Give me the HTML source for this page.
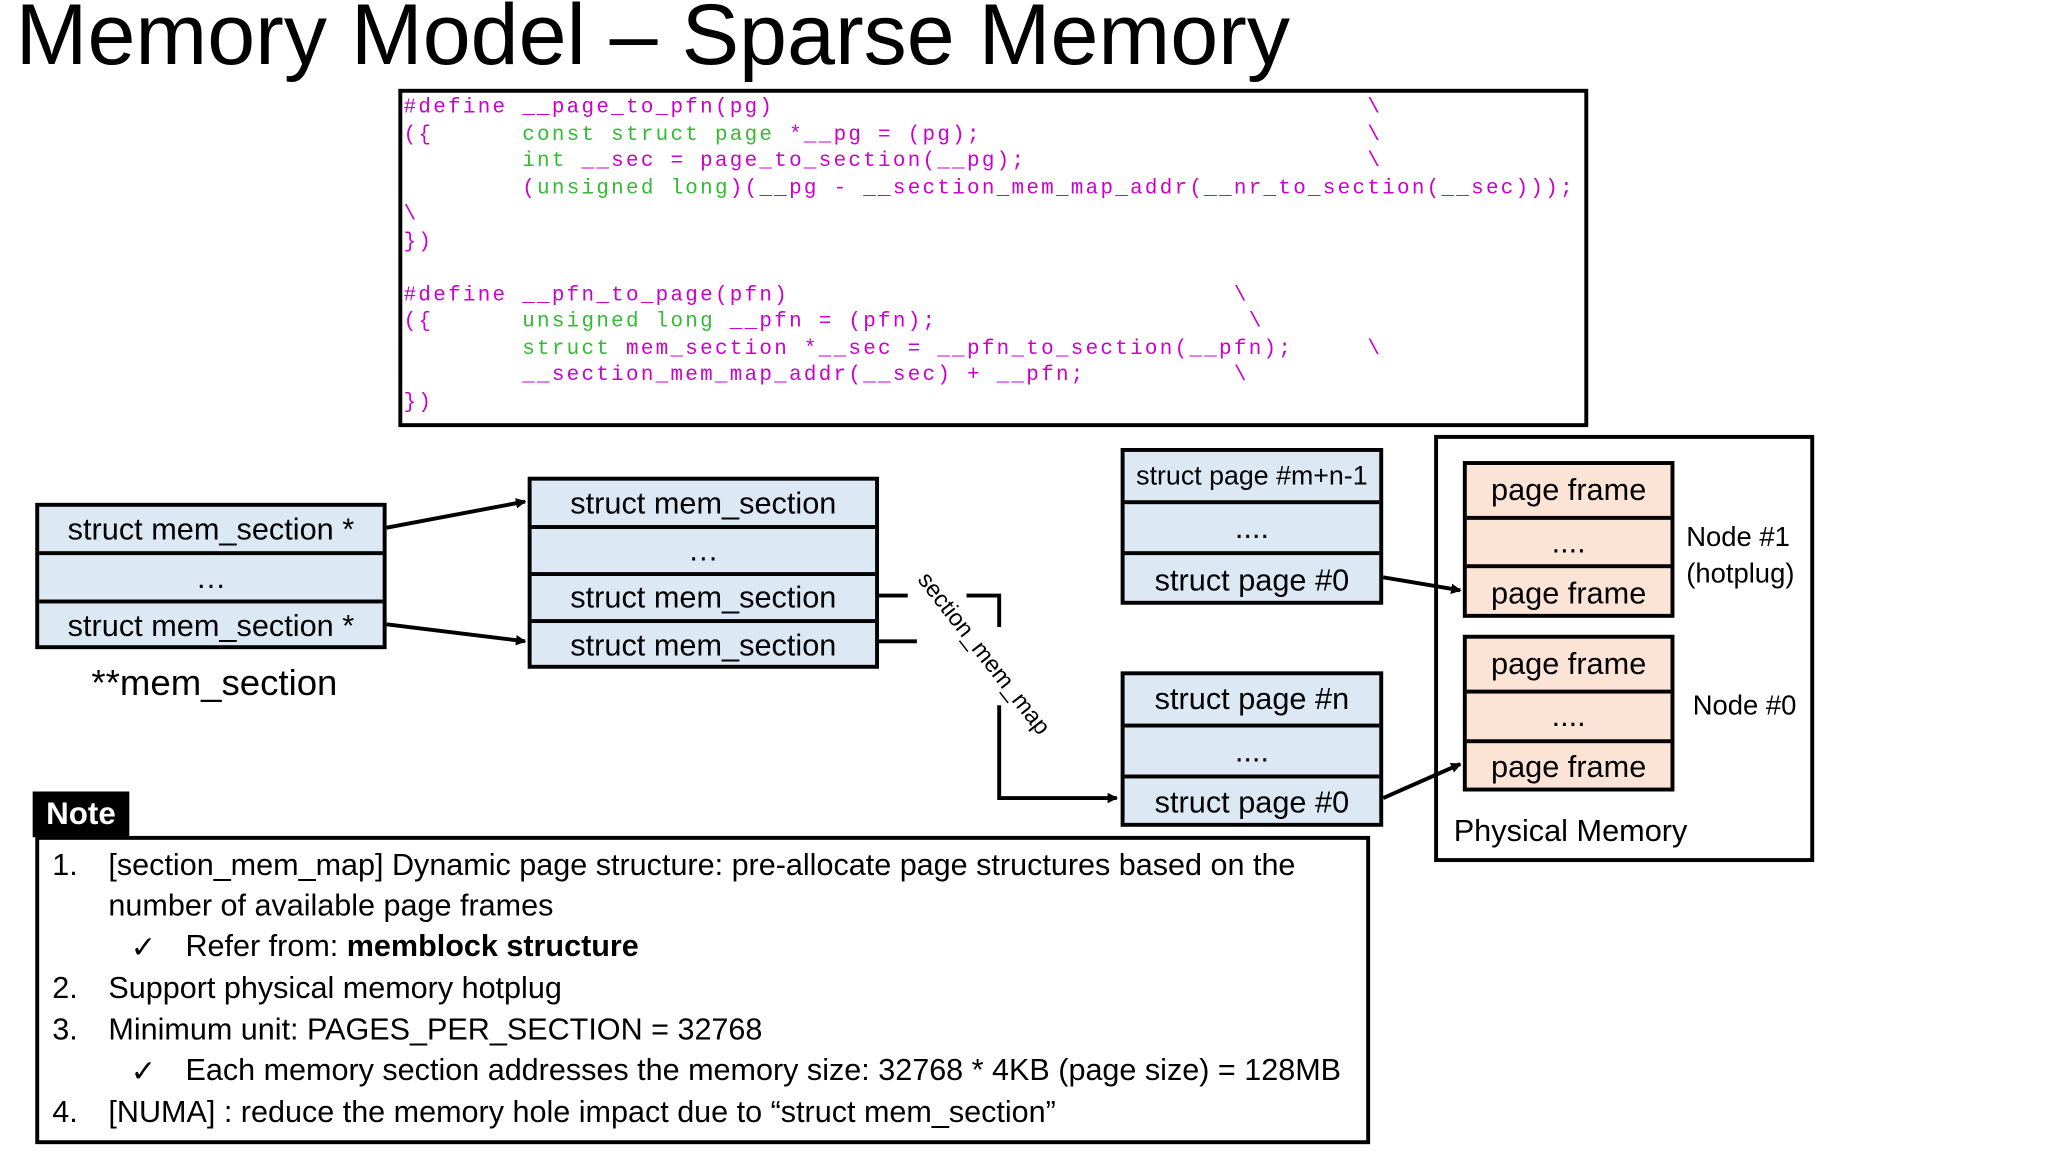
<!DOCTYPE html>
<html><head><meta charset="utf-8"><style>
html,body{margin:0;padding:0;background:#fff;width:2048px;height:1152px;overflow:hidden}
#w{position:absolute;left:0;top:0;width:1568px;height:882px;transform:scale(1.30612);transform-origin:0 0;font-family:"Liberation Sans",sans-serif;color:#000}
.a{position:absolute}
.box{position:absolute;border:3px solid #000;box-sizing:border-box}
.row{position:absolute;left:0;right:0;box-sizing:border-box;border-bottom:3px solid #000;display:flex;align-items:center;justify-content:center;white-space:nowrap}
.b{background:#dde8f5}.p{background:#fbe3d6}
.code{position:absolute;left:309px;font-family:"Liberation Mono",monospace;font-size:16px;letter-spacing:1.75px;white-space:pre;line-height:20.5px}
.m{color:#cc00cc}.g{color:#33bb33}
.n{position:absolute;font-size:23.4px;white-space:nowrap}
</style></head><body><div id="w">
<div class="a" style="left:12px;top:-12px;font-size:66px;white-space:nowrap">Memory Model – Sparse Memory</div>

<div class="box" style="left:305px;top:68px;width:911px;height:259px"></div>
<div class="code" style="top:72px"><span class="m">#define __page_to_pfn(pg)                                        \</span>
<span class="m">({      </span><span class="g">const struct page</span><span class="m"> *__pg = (pg);                          \</span>
<span class="m">        </span><span class="g">int</span><span class="m"> __sec = page_to_section(__pg);                       \</span>
<span class="m">        (</span><span class="g">unsigned long</span><span class="m">)(__pg - __section_mem_map_addr(__nr_to_section(__sec)));</span>
<span class="m">\</span>
<span class="m">})</span>

<span class="m">#define __pfn_to_page(pfn)                              \</span>
<span class="m">({      </span><span class="g">unsigned long</span><span class="m"> __pfn = (pfn);                     \</span>
<span class="m">        </span><span class="g">struct</span><span class="m"> mem_section *__sec = __pfn_to_section(__pfn);     \</span>
<span class="m">        __section_mem_map_addr(__sec) + __pfn;          \</span>
<span class="m">})</span></div>

<!-- left array -->
<div class="box b" style="left:27px;top:385px;width:269px;height:112px;font-size:23.5px">
<div class="row" style="top:0;height:37px">struct mem_section *</div>
<div class="row" style="top:37px;height:37px">…</div>
<div class="row" style="top:74px;height:35px;border:0">struct mem_section *</div>
</div>
<div class="a" style="left:70px;top:507px;font-size:28px">**mem_section</div>

<!-- middle array -->
<div class="box b" style="left:404px;top:365px;width:269px;height:147px;font-size:23.5px">
<div class="row" style="top:0;height:37px">struct mem_section</div>
<div class="row" style="top:37px;height:36px">…</div>
<div class="row" style="top:73px;height:36px">struct mem_section</div>
<div class="row" style="top:109px;height:35px;border:0">struct mem_section</div>
</div>

<!-- struct page arrays -->
<div class="box b" style="left:858px;top:343px;width:201px;height:120px;font-size:23.5px">
<div class="row" style="top:0;height:40px;font-size:20.5px">struct page #m+n-1</div>
<div class="row" style="top:40px;height:39px">....</div>
<div class="row" style="top:79px;height:38px;border:0">struct page #0</div>
</div>
<div class="box b" style="left:858px;top:514px;width:201px;height:119px;font-size:23.5px">
<div class="row" style="top:0;height:40px">struct page #n</div>
<div class="row" style="top:40px;height:39px">....</div>
<div class="row" style="top:79px;height:37px;border:0">struct page #0</div>
</div>

<!-- physical memory -->
<div class="box" style="left:1098px;top:333px;width:291px;height:327px"></div>
<div class="box p" style="left:1120px;top:353px;width:162px;height:120px;font-size:23.5px">
<div class="row" style="top:0;height:42px">page frame</div>
<div class="row" style="top:42px;height:37px">....</div>
<div class="row" style="top:79px;height:38px;border:0">page frame</div>
</div>
<div class="box p" style="left:1120px;top:486px;width:162px;height:120px;font-size:23.5px">
<div class="row" style="top:0;height:42px">page frame</div>
<div class="row" style="top:42px;height:38px">....</div>
<div class="row" style="top:80px;height:37px;border:0">page frame</div>
</div>
<div class="a" style="left:1291px;top:398px;font-size:21px;line-height:28px">Node #1<br>(hotplug)</div>
<div class="a" style="left:1296px;top:529px;font-size:21px">Node #0</div>
<div class="a" style="left:1113px;top:623px;font-size:23.5px">Physical Memory</div>

<svg class="a" style="left:0;top:0" width="1568" height="882">
<defs><marker id="ar" markerWidth="8" markerHeight="8" refX="7" refY="4" orient="auto" markerUnits="userSpaceOnUse"><path d="M0,0 L8,4 L0,8 z"/></marker></defs>
<g stroke="#000" stroke-width="3" fill="none">
<line x1="296" y1="404" x2="402" y2="384" marker-end="url(#ar)"/>
<line x1="296" y1="478" x2="402" y2="491" marker-end="url(#ar)"/>
<line x1="673" y1="456" x2="695" y2="456"/>
<line x1="673" y1="491" x2="702" y2="491"/>
<polyline points="740,456 765,456 765,480"/>
<polyline points="765,540 765,611 855,611" marker-end="url(#ar)"/>
<line x1="1059" y1="442" x2="1118" y2="452" marker-end="url(#ar)"/>
<line x1="1059" y1="611" x2="1118" y2="585" marker-end="url(#ar)"/>
</g>
<text x="702" y="444" font-family="Liberation Sans" font-size="18" transform="rotate(52 702 444)">section_mem_map</text>
</svg>

<!-- note -->
<div class="a" style="left:25px;top:606px;width:74px;height:35px;background:#000;color:#fff;font-weight:bold;font-size:24px;line-height:36px;text-align:center">Note</div>
<div class="box" style="left:27px;top:640px;width:1022px;height:236px"></div>
<div class="n" style="left:40px;top:649px">1.</div>
<div class="n" style="left:83px;top:649px">[section_mem_map] Dynamic page structure: pre-allocate page structures based on the</div>
<div class="n" style="left:83px;top:680px">number of available page frames</div>
<div class="n" style="left:100px;top:711px">✓</div>
<div class="n" style="left:142px;top:711px">Refer from: <b>memblock structure</b></div>
<div class="n" style="left:40px;top:743px">2.</div>
<div class="n" style="left:83px;top:743px">Support physical memory hotplug</div>
<div class="n" style="left:40px;top:775px">3.</div>
<div class="n" style="left:83px;top:775px">Minimum unit: PAGES_PER_SECTION = 32768</div>
<div class="n" style="left:100px;top:806px">✓</div>
<div class="n" style="left:142px;top:806px">Each memory section addresses the memory size: 32768 * 4KB (page size) = 128MB</div>
<div class="n" style="left:40px;top:838px">4.</div>
<div class="n" style="left:83px;top:838px">[NUMA] : reduce the memory hole impact due to “struct mem_section”</div>
</div></body></html>
